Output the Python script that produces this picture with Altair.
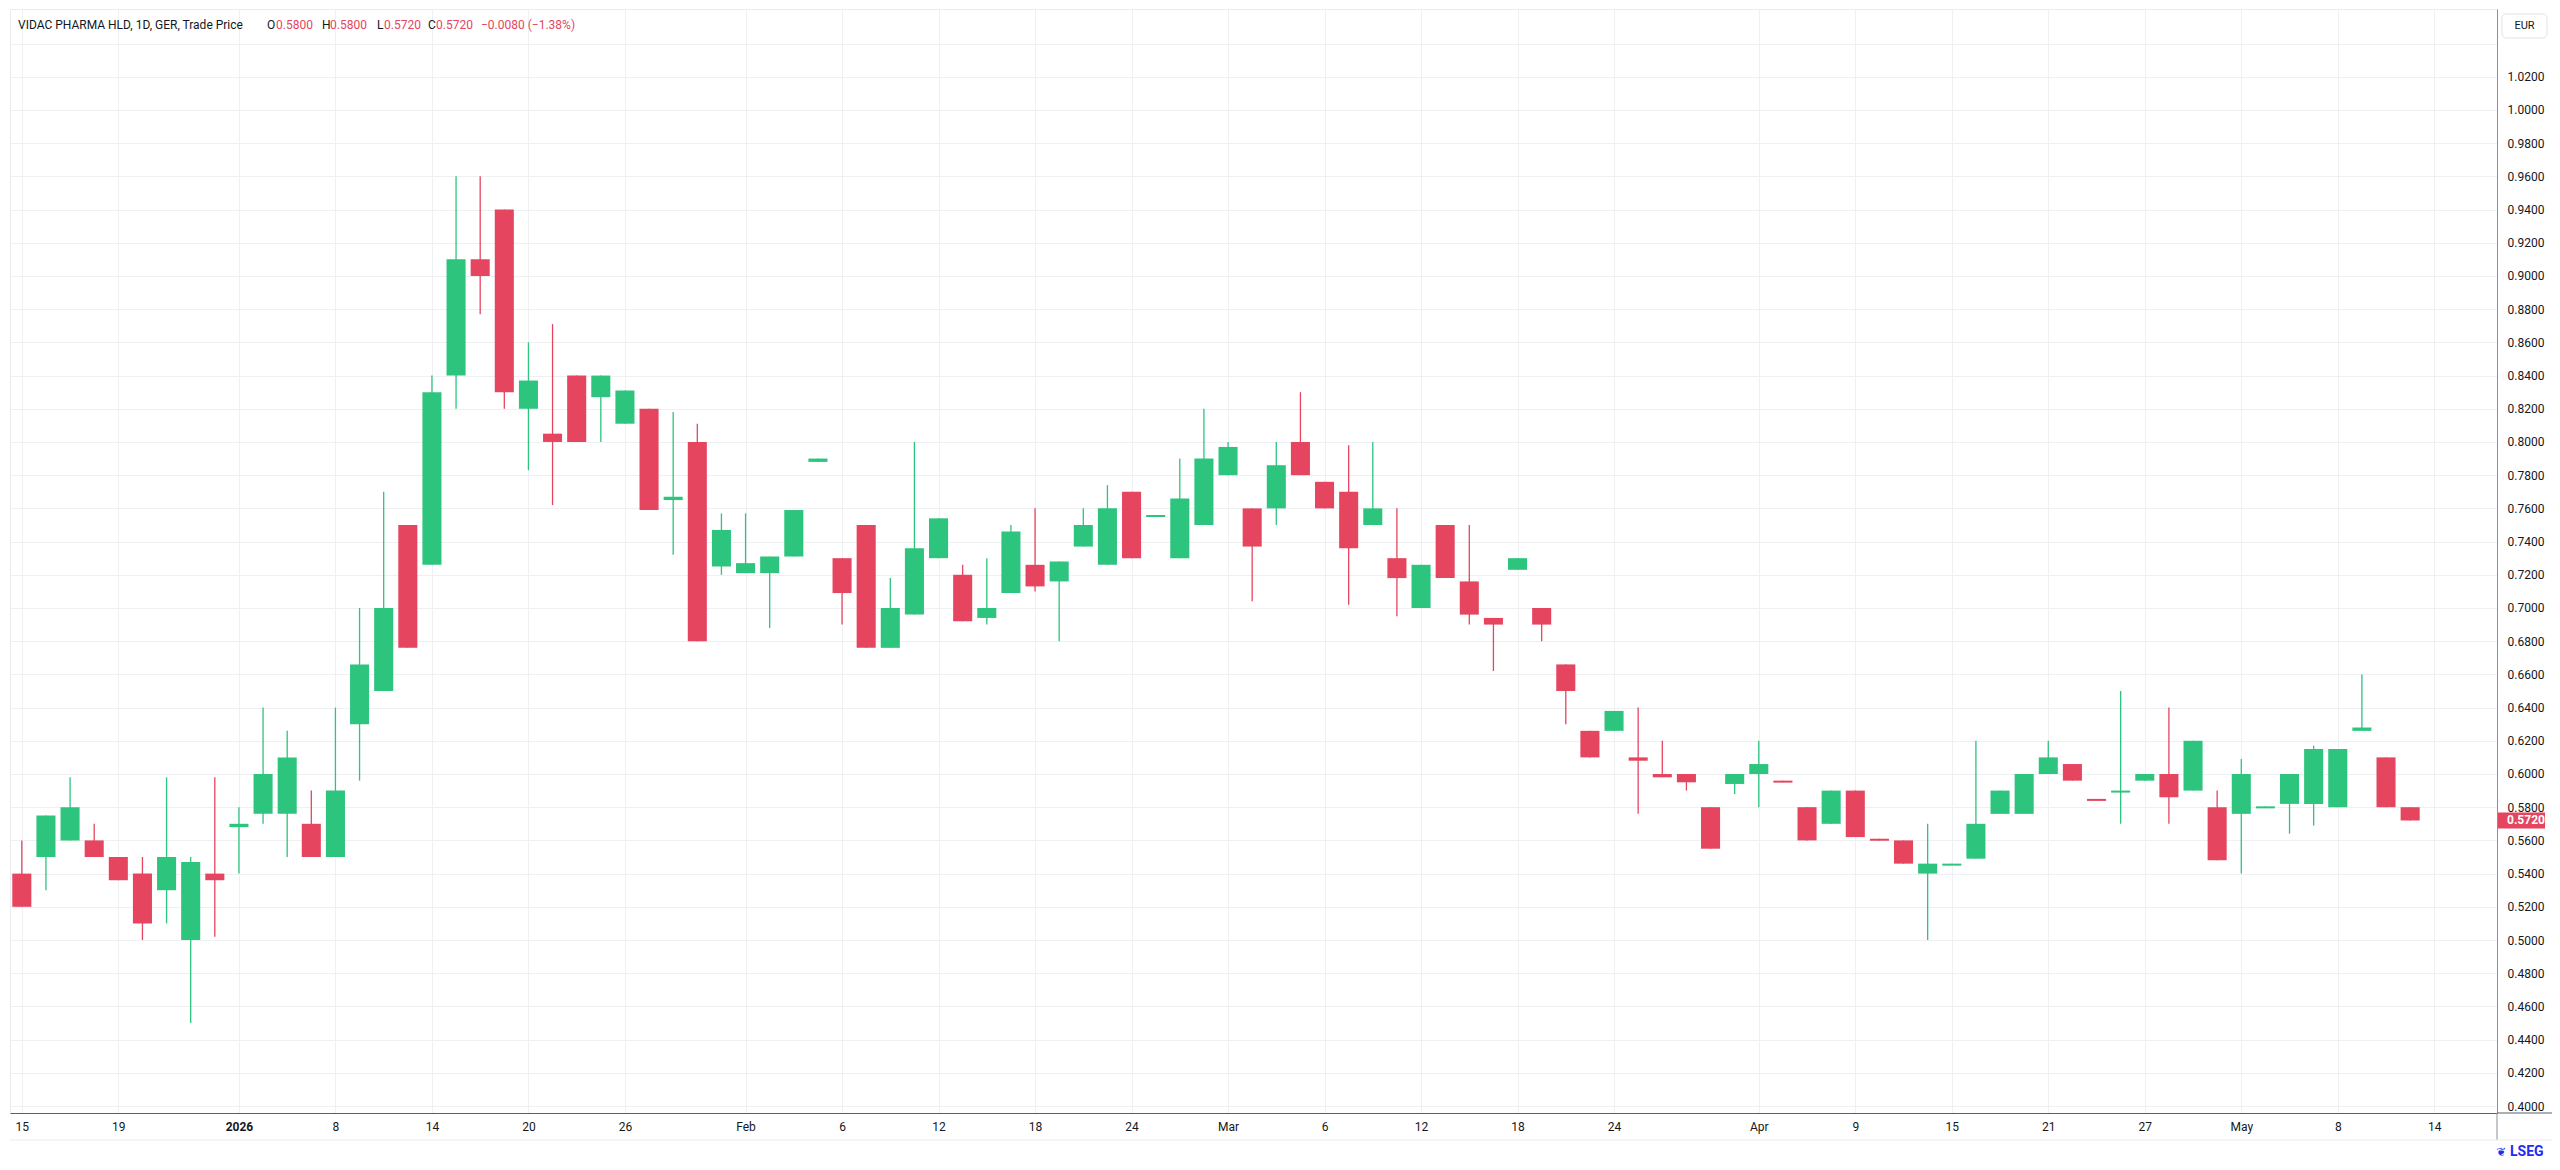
import altair as alt
import pandas as pd

# ---------------- data ----------------
dates = [
    "2025-12-15", "2025-12-16", "2025-12-17", "2025-12-18", "2025-12-19",
    "2025-12-22", "2025-12-23", "2025-12-29", "2025-12-30",
    "2026-01-02", "2026-01-05", "2026-01-06", "2026-01-07", "2026-01-08", "2026-01-09",
    "2026-01-12", "2026-01-13", "2026-01-14", "2026-01-15", "2026-01-16",
    "2026-01-19", "2026-01-20", "2026-01-21", "2026-01-22", "2026-01-23",
    "2026-01-26", "2026-01-27", "2026-01-28", "2026-01-29", "2026-01-30",
    "2026-02-02", "2026-02-03", "2026-02-04", "2026-02-05", "2026-02-06",
    "2026-02-09", "2026-02-10", "2026-02-11", "2026-02-12", "2026-02-13",
    "2026-02-16", "2026-02-17", "2026-02-18", "2026-02-19", "2026-02-20",
    "2026-02-23", "2026-02-24", "2026-02-25", "2026-02-26", "2026-02-27",
    "2026-03-02", "2026-03-03", "2026-03-04", "2026-03-05", "2026-03-06",
    "2026-03-09", "2026-03-10", "2026-03-11", "2026-03-12", "2026-03-13",
    "2026-03-16", "2026-03-17", "2026-03-18", "2026-03-19", "2026-03-20",
    "2026-03-23", "2026-03-24", "2026-03-25", "2026-03-26", "2026-03-27",
    "2026-03-30", "2026-03-31", "2026-04-01", "2026-04-02",
    "2026-04-07", "2026-04-08", "2026-04-09", "2026-04-10",
    "2026-04-13", "2026-04-14", "2026-04-15", "2026-04-16", "2026-04-17",
    "2026-04-20", "2026-04-21", "2026-04-22", "2026-04-23", "2026-04-24",
    "2026-04-27", "2026-04-28", "2026-04-29", "2026-04-30",
    "2026-05-04", "2026-05-05", "2026-05-06", "2026-05-07", "2026-05-08",
    "2026-05-11", "2026-05-12", "2026-05-13",
]

opens = [
    0.540, 0.550, 0.560, 0.560, 0.550, 0.540, 0.530, 0.500, 0.540,
    0.568, 0.576, 0.576, 0.570, 0.550, 0.630, 0.650, 0.750, 0.726, 0.840, 0.910,
    0.940, 0.820, 0.805, 0.840, 0.827, 0.811, 0.820, 0.765, 0.800, 0.725,
    0.721, 0.721, 0.731, 0.788, 0.730, 0.750, 0.676, 0.696, 0.730, 0.720,
    0.694, 0.709, 0.726, 0.716, 0.737, 0.726, 0.770, 0.756, 0.730, 0.750,
    0.780, 0.760, 0.760, 0.800, 0.776, 0.770, 0.750, 0.730, 0.700, 0.750,
    0.716, 0.694, 0.723, 0.700, 0.666, 0.626, 0.626, 0.610, 0.600, 0.600,
    0.580, 0.594, 0.600, 0.596, 0.580, 0.570, 0.590, 0.561,
    0.560, 0.540, 0.545, 0.549, 0.576, 0.576, 0.600, 0.606, 0.585, 0.589,
    0.596, 0.600, 0.590, 0.580, 0.576, 0.580, 0.582, 0.582, 0.580,
    0.626, 0.610, 0.580,
]
highs = [
    0.560, 0.575, 0.598, 0.570, 0.550, 0.550, 0.598, 0.550, 0.598,
    0.580, 0.640, 0.626, 0.590, 0.640, 0.700, 0.770, 0.750, 0.840, 0.960, 0.960,
    0.940, 0.860, 0.871, 0.840, 0.840, 0.831, 0.820, 0.818, 0.811, 0.757,
    0.757, 0.731, 0.759, 0.790, 0.730, 0.750, 0.718, 0.800, 0.754, 0.726,
    0.730, 0.750, 0.760, 0.728, 0.760, 0.774, 0.770, 0.756, 0.790, 0.820,
    0.800, 0.760, 0.800, 0.830, 0.776, 0.798, 0.800, 0.760, 0.726, 0.750,
    0.750, 0.694, 0.730, 0.700, 0.666, 0.626, 0.638, 0.640, 0.620, 0.600,
    0.580, 0.600, 0.620, 0.596, 0.580, 0.590, 0.590, 0.561,
    0.560, 0.570, 0.546, 0.620, 0.590, 0.600, 0.620, 0.606, 0.585, 0.650,
    0.600, 0.640, 0.620, 0.590, 0.609, 0.5805, 0.600, 0.617, 0.615,
    0.660, 0.610, 0.580,
]
lows = [
    0.520, 0.530, 0.560, 0.550, 0.536, 0.500, 0.510, 0.450, 0.502,
    0.540, 0.570, 0.550, 0.550, 0.550, 0.596, 0.650, 0.676, 0.726, 0.820, 0.877,
    0.820, 0.783, 0.762, 0.800, 0.800, 0.811, 0.759, 0.732, 0.680, 0.720,
    0.721, 0.688, 0.731, 0.788, 0.690, 0.676, 0.676, 0.696, 0.730, 0.692,
    0.690, 0.709, 0.710, 0.680, 0.737, 0.726, 0.730, 0.756, 0.730, 0.750,
    0.780, 0.704, 0.750, 0.780, 0.760, 0.702, 0.750, 0.695, 0.700, 0.718,
    0.690, 0.662, 0.723, 0.680, 0.630, 0.610, 0.626, 0.576, 0.598, 0.590,
    0.555, 0.588, 0.580, 0.595, 0.560, 0.570, 0.562, 0.560,
    0.546, 0.500, 0.545, 0.549, 0.576, 0.576, 0.600, 0.596, 0.584, 0.570,
    0.596, 0.570, 0.590, 0.548, 0.540, 0.580, 0.564, 0.569, 0.580,
    0.626, 0.580, 0.572,
]
closes = [
    0.520, 0.575, 0.580, 0.550, 0.536, 0.510, 0.550, 0.547, 0.536,
    0.570, 0.600, 0.610, 0.550, 0.590, 0.666, 0.700, 0.676, 0.830, 0.910, 0.900,
    0.830, 0.837, 0.800, 0.800, 0.840, 0.831, 0.759, 0.767, 0.680, 0.747,
    0.727, 0.731, 0.759, 0.790, 0.709, 0.676, 0.700, 0.736, 0.754, 0.692,
    0.700, 0.746, 0.713, 0.728, 0.750, 0.760, 0.730, 0.756, 0.766, 0.790,
    0.797, 0.737, 0.786, 0.780, 0.760, 0.736, 0.760, 0.718, 0.726, 0.718,
    0.696, 0.690, 0.730, 0.690, 0.650, 0.610, 0.638, 0.608, 0.598, 0.595,
    0.555, 0.600, 0.606, 0.595, 0.560, 0.590, 0.562, 0.560,
    0.546, 0.546, 0.546, 0.570, 0.590, 0.600, 0.610, 0.596, 0.584, 0.590,
    0.600, 0.586, 0.620, 0.548, 0.600, 0.5805, 0.600, 0.615, 0.615,
    0.628, 0.580, 0.572,
]

# axis tick labels (trading-day based time axis; last one lies one session ahead)
tick_dates = [
    "2025-12-15", "2025-12-19", "2026-01-02", "2026-01-08", "2026-01-14",
    "2026-01-20", "2026-01-26", "2026-02-02", "2026-02-06", "2026-02-12",
    "2026-02-18", "2026-02-24", "2026-03-02", "2026-03-06", "2026-03-12",
    "2026-03-18", "2026-03-24", "2026-04-01", "2026-04-09", "2026-04-15",
    "2026-04-21", "2026-04-27", "2026-05-04", "2026-05-08", "2026-05-14",
]
tick_labels = [
    "15", "19", "2026", "8", "14", "20", "26", "Feb", "6", "12", "18", "24",
    "Mar", "6", "12", "18", "24", "Apr", "9", "15", "21", "27", "May", "8", "14",
]
price_ticks = [round(0.40 + 0.02 * i, 2) for i in range(33)]  # 0.40 .. 1.04

title_text = "VIDAC PHARMA HLD, 1D, GER, Trade Price"
currency = "EUR"
brand = "LSEG"

# ---------------- frame ----------------
n = len(dates)
df = pd.DataFrame({"date": dates, "open": opens, "high": highs,
                   "low": lows, "close": closes})
df["idx"] = range(n)
df["dir"] = ["up" if c >= o else "down" for o, c in zip(opens, closes)]

tick_idx = [dates.index(d) if d in dates else n for d in tick_dates]
bold_idx = tick_idx[tick_labels.index("2026")]

GREEN = "#2dc47e"
RED = "#e5455f"
DARK = "#131722"
GRID = "#eef0f3"
FONT = "Roboto"
BLUE = "#1f2bf0"

W, H = 2487, 1104
x_scale = alt.Scale(domain=[-0.49, 102.6], nice=False, zero=False)
y_scale = alt.Scale(domain=[0.3958, 1.0608], nice=False, zero=False)

label_expr = "[" + ",".join("'%s'" % t for t in tick_labels) + "][indexof([" + \
    ",".join(str(i) for i in tick_idx) + "], datum.value)]"

x_axis = alt.Axis(
    values=tick_idx, labelExpr=label_expr, title=None, ticks=False,
    grid=True, gridColor=GRID, gridWidth=1,
    domain=True, domainColor="#5d606b", domainWidth=1,
    labelFont=FONT, labelFontSize=12, labelColor=DARK, labelPadding=8,
    labelFlush=False, labelOverlap=False,
    labelFontWeight={"condition": {"test": "datum.value == %d" % bold_idx,
                                   "value": "bold"}, "value": "normal"},
)
y_axis = alt.Axis(
    orient="right", values=price_ticks, format=".4f", title=None, ticks=False,
    labelExpr="datum.value > 1.03 ? '' : datum.label",
    grid=True, gridColor=GRID, gridWidth=1,
    domain=True, domainColor="#8c8f98", domainWidth=1,
    labelFont=FONT, labelFontSize=12, labelColor=DARK, labelPadding=10,
    labelFlush=False, labelOverlap=False,
)

color = alt.Color("dir:N", scale=alt.Scale(domain=["up", "down"], range=[GREEN, RED]),
                  legend=None)

base = alt.Chart(df)

wicks = base.mark_rule(strokeWidth=1.3).encode(
    x=alt.X("idx:Q", scale=x_scale, axis=x_axis),
    y=alt.Y("low:Q", scale=y_scale, axis=y_axis),
    y2="high:Q",
    color=color,
)

bodies = base.transform_calculate(
    xl="datum.idx - 0.395",
    xr="datum.idx + 0.395",
    bhi="max(datum.open, datum.close)",
    blo="min(min(datum.open, datum.close), max(datum.open, datum.close) - 0.0012)",
).mark_rect().encode(
    x=alt.X("xl:Q", scale=x_scale, axis=x_axis),
    x2="xr:Q",
    y=alt.Y("blo:Q", scale=y_scale, axis=y_axis),
    y2="bhi:Q",
    color=color,
)

# ---------------- header legend ----------------
last_o, last_h, last_l, last_c = opens[-1], highs[-1], lows[-1], closes[-1]
chg = last_c - closes[-2]
pct = chg / closes[-2] * 100


def fmt_signed(v, d):
    s = f"{abs(v):.{d}f}"
    return ("\u2212" if v < 0 else "+") + s


one = pd.DataFrame({"k": [0]})


def txt(text, x, y, col=DARK, size=12, weight="normal", align="left",
        baseline="alphabetic", font=FONT):
    return alt.Chart(one).mark_text(
        text=text, font=font, fontSize=size, fontWeight=weight, color=col,
        align=align, baseline=baseline,
    ).encode(x=alt.value(x), y=alt.value(y))


header = [
    txt(title_text, 8, 20),
    txt("O", 257, 20), txt(f"{last_o:.4f}", 266, 20, RED),
    txt("H", 312, 20), txt(f"{last_h:.4f}", 320, 20, RED),
    txt("L", 367, 20), txt(f"{last_l:.4f}", 374, 20, RED),
    txt("C", 418, 20), txt(f"{last_c:.4f}", 426, 20, RED),
    txt(f"{fmt_signed(chg, 4)} ({fmt_signed(pct, 2)}%)", 471, 20, RED),
]

# currency box in the price scale
eur_box = alt.Chart(one).mark_rect(
    fill="white", stroke="#e0e3eb", strokeWidth=1, cornerRadius=4
).encode(x=alt.value(2492), x2=alt.value(2537), y=alt.value(5), y2=alt.value(29))
eur_txt = txt(currency, 2514.5, 17, DARK, 11, align="center", baseline="middle")

# last price label
price_bg = alt.Chart(one).mark_rule(strokeWidth=16, color=RED, strokeCap="butt").encode(
    x=alt.value(W + 1), x2=alt.value(W + 48),
    y=alt.Y(datum=last_c, type="quantitative", scale=y_scale, axis=y_axis),
)
price_txt = alt.Chart(one).mark_text(
    text=f"{last_c:.4f}", font=FONT, fontSize=12, fontWeight="bold", color="white",
    align="left", baseline="middle",
).encode(
    x=alt.value(W + 10),
    y=alt.Y(datum=last_c, type="quantitative", scale=y_scale, axis=y_axis),
)

# time-scale pane: bottom line under the price scale, separator, borders, logo
bottom_ext = alt.Chart(one).mark_rule(color="#5d606b", strokeWidth=1).encode(
    x=alt.value(W), x2=alt.value(W + 56), y=alt.value(H)
)
scale_sep = alt.Chart(one).mark_rule(color="#8c8f98", strokeWidth=1).encode(
    x=alt.value(W), y=alt.value(H), y2=alt.value(H + 27)
)
pane_bottom = alt.Chart(one).mark_rule(color="#e9ebef", strokeWidth=1).encode(
    x=alt.value(0), x2=alt.value(W + 56), y=alt.value(H + 27)
)
logo = txt(brand, 2500, 1147, BLUE, 14, "bold", align="left")
logo_mark = txt("\u2766", 2496, 1147, BLUE, 12, "bold", align="right",
                font="DejaVu Sans")

chart = alt.layer(
    wicks, bodies, *header, eur_box, eur_txt, price_bg, price_txt,
    bottom_ext, scale_sep, pane_bottom, logo, logo_mark,
).properties(
    width=W, height=H,
    autosize=alt.AutoSizeParams(type="none"),
    padding={"left": 2, "top": 1, "right": 55, "bottom": 49},
    background="white",
).configure_view(stroke="#e9ebef", strokeWidth=1)

chart.save("out.html", embed_options={"renderer": "svg", "actions": False})
